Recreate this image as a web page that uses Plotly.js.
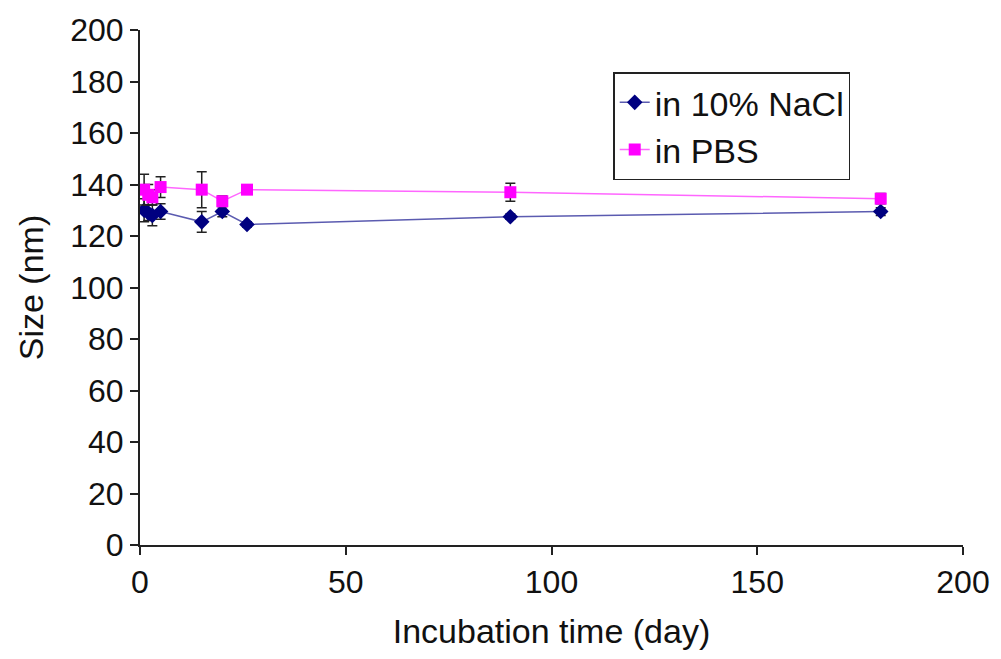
<!DOCTYPE html>
<html>
<head>
<meta charset="utf-8">
<script src="https://cdn.plot.ly/plotly-3.0.1.min.js"></script>
<style>html,body{margin:0;padding:0;background:#fff;}#chart{width:1001px;height:659px;}</style>
</head>
<body>
<div id="chart"></div>
<script>
const days = [1, 2, 3, 5, 15, 20, 26, 90, 180];
const naclSize = [130, 129, 128, 129.5, 125.5, 129.5, 124.5, 127.5, 129.5];
const naclErr = [4.5, 3, 4, 3, 4, 2, 1, 1, 1.5];
const pbsSize = [138, 136, 135, 139, 138, 133.5, 138, 137, 134.5];
const pbsErr = [6, 4, 3, 4, 7, 2, 1, 3.5, 2];
const xTicks = [0, 50, 100, 150, 200];
const yTicks = [0, 20, 40, 60, 80, 100, 120, 140, 160, 180, 200];

const font = 'Liberation Sans, Arial, sans-serif';
const traces = [
  {
    x: days, y: naclSize, name: 'in 10% NaCl', mode: 'lines+markers', type: 'scatter',
    line: {color: '#5b5bb0', width: 1.5},
    marker: {symbol: 'diamond', color: '#000080', size: 12},
    error_y: {type: 'data', array: naclErr, visible: true, color: '#222', thickness: 1.5, width: 5}
  },
  {
    x: days, y: pbsSize, name: 'in PBS', mode: 'lines+markers', type: 'scatter',
    line: {color: '#ff66ff', width: 1.5},
    marker: {symbol: 'square', color: '#ff00ff', size: 12},
    error_y: {type: 'data', array: pbsErr, visible: true, color: '#222', thickness: 1.5, width: 5}
  }
];
const layout = {
  width: 1001, height: 659,
  margin: {l: 140, r: 38, t: 30, b: 114},
  paper_bgcolor: '#fff', plot_bgcolor: '#fff',
  font: {family: font, color: '#111', size: 32},
  showlegend: true,
  legend: {
    x: 0.575, y: 0.918, xanchor: 'left', yanchor: 'top',
    bordercolor: '#222', borderwidth: 1.5, bgcolor: '#fff',
    font: {family: font, size: 34, color: '#111'},
    tracegroupgap: 0
  },
  xaxis: {
    range: [0, 200], tickvals: xTicks, ticktext: xTicks.map(String),
    showgrid: false, zeroline: false, showline: true, linecolor: '#222', linewidth: 2,
    ticks: 'outside', ticklen: 8, tickwidth: 2, tickcolor: '#222',
    tickfont: {family: font, size: 32, color: '#111'},
    title: {text: 'Incubation time (day)', font: {family: font, size: 34, color: '#111'}, standoff: 20}
  },
  yaxis: {
    range: [0, 200], tickvals: yTicks, ticktext: yTicks.map(String),
    showgrid: false, zeroline: false, showline: true, linecolor: '#222', linewidth: 2,
    ticks: 'outside', ticklen: 8, tickwidth: 2, tickcolor: '#222',
    tickfont: {family: font, size: 32, color: '#111'},
    title: {text: 'Size (nm)', font: {family: font, size: 34, color: '#111'}, standoff: 16}
  }
};
Plotly.newPlot('chart', traces, layout, {displayModeBar: false, staticPlot: true});
</script>
</body>
</html>
